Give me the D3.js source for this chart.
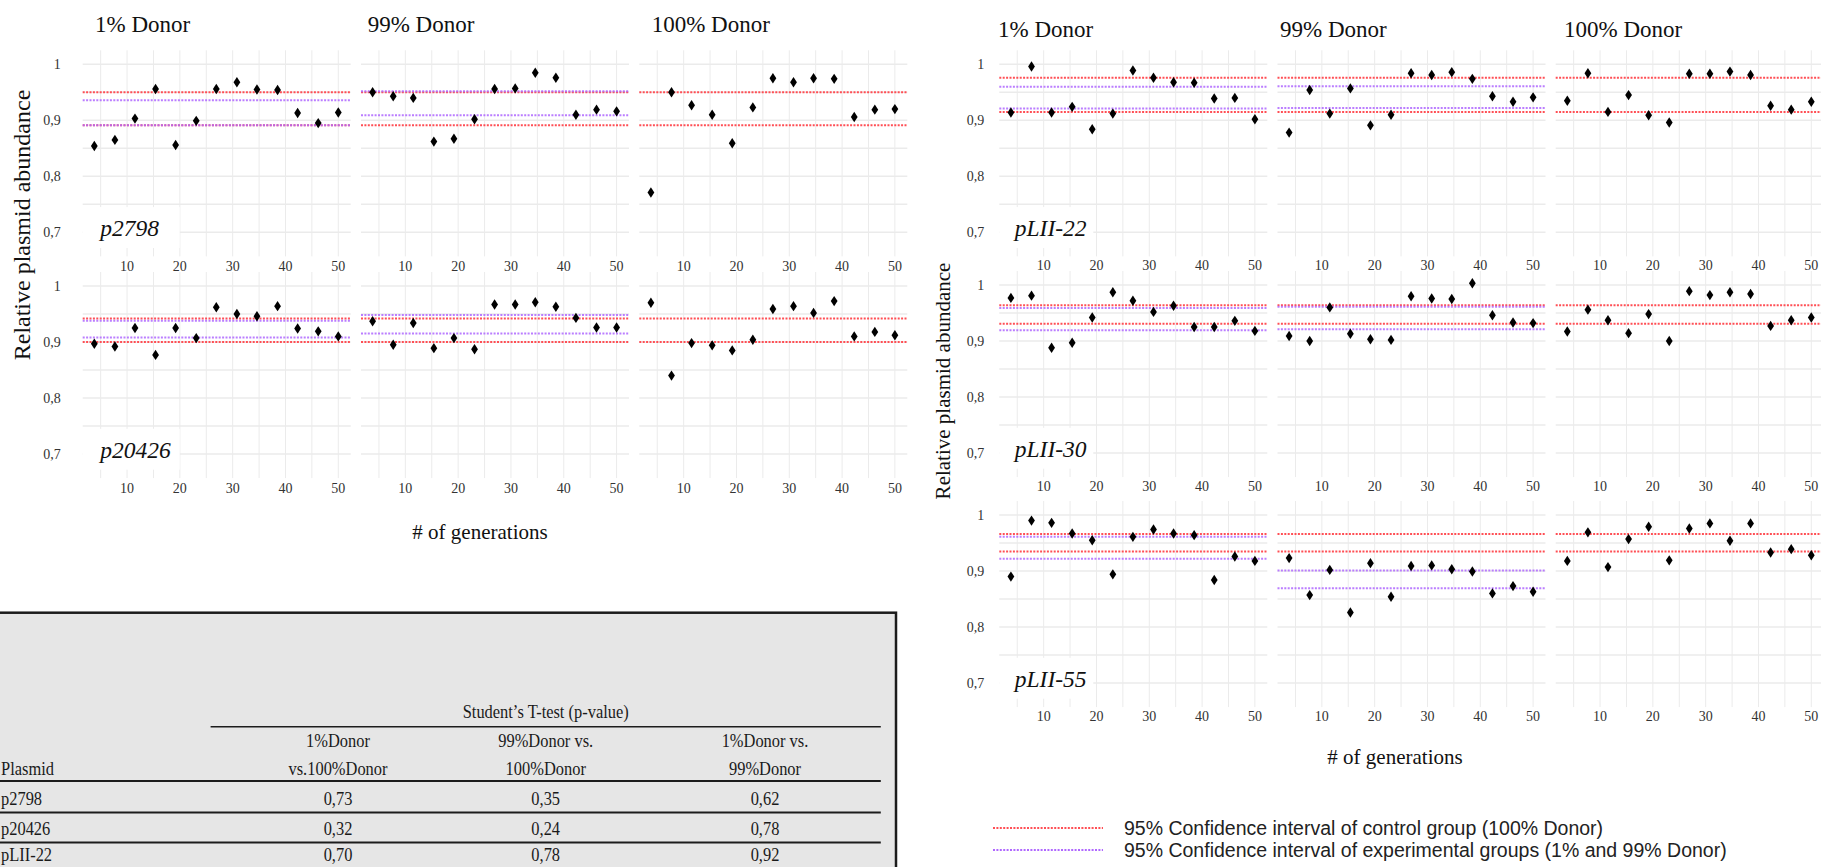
<!DOCTYPE html>
<html>
<head>
<meta charset="utf-8">
<script src="https://cdn.jsdelivr.net/npm/d3@7"></script>
<style>
  html, body { margin: 0; padding: 0; background: #fff; overflow: hidden; }
  svg { display: block; }
</style>
</head>
<body>
<svg id="fig" width="1821" height="867"></svg>
<script>
// ---- data -------------------------------------------------------------
const generations = [3.8, 7.7, 11.5, 15.4, 19.2, 23.1, 26.9, 30.8, 34.6, 38.5, 42.3, 46.2, 50];
const donorGroups = ["1% Donor", "99% Donor", "100% Donor"];
const plasmids = ["p2798", "p20426", "pLII-22", "pLII-30", "pLII-55"];

// relative plasmid abundance, one array per plasmid and donor fraction
const p2798_1   = [0.854, 0.865, 0.903, 0.956, 0.856, 0.899, 0.956, 0.968, 0.955, 0.954, 0.913, 0.895, 0.914];
const p2798_99  = [0.950, 0.943, 0.940, 0.862, 0.867, 0.902, 0.956, 0.957, 0.985, 0.976, 0.910, 0.919, 0.916];
const p2798_100 = [0.771, 0.950, 0.927, 0.910, 0.859, 0.923, 0.975, 0.968, 0.975, 0.974, 0.906, 0.919, 0.920];

const p20426_1   = [0.897, 0.892, 0.925, 0.877, 0.925, 0.907, 0.962, 0.950, 0.946, 0.964, 0.924, 0.919, 0.910];
const p20426_99  = [0.937, 0.895, 0.934, 0.889, 0.907, 0.887, 0.967, 0.967, 0.971, 0.963, 0.943, 0.926, 0.926];
const p20426_100 = [0.970, 0.840, 0.898, 0.894, 0.885, 0.904, 0.959, 0.964, 0.952, 0.973, 0.910, 0.918, 0.912];

const pLII22_1   = [0.914, 0.996, 0.914, 0.924, 0.884, 0.912, 0.989, 0.976, 0.968, 0.967, 0.939, 0.940, 0.902];
const pLII22_99  = [0.878, 0.954, 0.912, 0.957, 0.891, 0.910, 0.984, 0.981, 0.986, 0.974, 0.943, 0.933, 0.941];
const pLII22_100 = [0.935, 0.984, 0.915, 0.945, 0.909, 0.896, 0.983, 0.983, 0.987, 0.981, 0.926, 0.919, 0.933];

const pLII30_1   = [0.977, 0.981, 0.888, 0.897, 0.942, 0.987, 0.972, 0.952, 0.963, 0.925, 0.925, 0.936, 0.918];
const pLII30_99  = [0.909, 0.900, 0.960, 0.913, 0.903, 0.902, 0.980, 0.976, 0.975, 1.003, 0.946, 0.933, 0.932];
const pLII30_100 = [0.917, 0.956, 0.937, 0.914, 0.948, 0.900, 0.989, 0.982, 0.987, 0.984, 0.927, 0.937, 0.942];

const pLII55_1   = [0.890, 0.990, 0.986, 0.967, 0.955, 0.894, 0.961, 0.974, 0.967, 0.964, 0.884, 0.926, 0.918];
const pLII55_99  = [0.923, 0.857, 0.902, 0.826, 0.914, 0.854, 0.909, 0.910, 0.903, 0.899, 0.860, 0.873, 0.863];
const pLII55_100 = [0.918, 0.969, 0.907, 0.957, 0.979, 0.919, 0.976, 0.985, 0.954, 0.985, 0.933, 0.939, 0.928];

// 95% confidence intervals, in plasmid order
const controlLow  = [0.891, 0.900, 0.915, 0.931, 0.935];
const controlHigh = [0.950, 0.942, 0.976, 0.964, 0.966];
const exp1Low     = [0.891, 0.908, 0.921, 0.919, 0.922];
const exp1High    = [0.936, 0.938, 0.960, 0.959, 0.961];
const exp99Low    = [0.909, 0.915, 0.922, 0.921, 0.869];
const exp99High   = [0.952, 0.948, 0.961, 0.961, 0.901];

const xTicks = [10, 20, 30, 40, 50];
const yTicks = [0.7, 0.8, 0.9, 1];

// Student's t-test table
const tablePlasmids = ["p2798", "p20426", "pLII-22"];
const pOneVsHundred = [0.73, 0.32, 0.70];
const pNinetyNineVsHundred = [0.35, 0.24, 0.78];
const pOneVsNinetyNine = [0.62, 0.78, 0.92];

const legendLabels = [
  "95% Confidence interval of control group (100% Donor)",
  "95% Confidence interval of experimental groups (1% and 99% Donor)"
];

// ---- helpers ----------------------------------------------------------
const seriesByPlasmid = [
  [p2798_1, p2798_99, p2798_100],
  [p20426_1, p20426_99, p20426_100],
  [pLII22_1, pLII22_99, pLII22_100],
  [pLII30_1, pLII30_99, pLII30_100],
  [pLII55_1, pLII55_99, pLII55_100]
];
const commaLocale = d3.formatLocale({ decimal: ",", thousands: ".", grouping: [3], currency: ["", ""] });
const fmtTick = v => commaLocale.format("~g")(v);
const fmtP = commaLocale.format(".2f");

const RED = "#ff4f55";
const PURPLE = "#b068ff";
const GRID = "#ebebeb";
const SERIF = "'Liberation Serif', 'Times New Roman', serif";

const svg = d3.select("#fig");

// ---- small-multiple blocks -------------------------------------------
const panelW = 268;
const xDomain = [1.6, 52.35];
const yDomain = [0.657, 1.025];
const pxPerUnit = 560;
const panelH = (yDomain[1] - yDomain[0]) * pxPerUnit;

const blocks = [
  {
    rows: [0, 1],
    lefts: [82.7, 361, 639.3],
    rowOne: [64.3, 286],            // pixel row where y = 1
    titleX: [95, 367.7, 651.7], titleY: 32,
    tickLabelGap: 22, xLabelDy: 15,
    tagDx: 17.5, tagW: 97,
    yTitle: { x: 22, y: 225, size: 24 },
    xTitle: { x: 480, y: 539 }
  },
  {
    rows: [2, 3, 4],
    lefts: [999.3, 1277.5, 1555.7],
    rowOne: [64.3, 285, 515],
    titleX: [998, 1280, 1564], titleY: 37,
    tickLabelGap: 15, xLabelDy: 14,
    tagDx: 15.5, tagW: 94,
    yTitle: { x: 943, y: 381, size: 21 },
    xTitle: { x: 1395, y: 764 }
  }
];

const diamond = "M0,-5.2L3.4,0L0,5.2L-3.4,0Z";

blocks.forEach(block => {
  const g = svg.append("g");

  // facet titles
  donorGroups.forEach((name, c) => {
    g.append("text")
      .attr("x", block.titleX[c]).attr("y", block.titleY)
      .attr("font-family", SERIF).attr("font-size", 23)
      .attr("fill", "#111")
      .text(name);
  });

  block.rows.forEach((pi, r) => {
    const top = block.rowOne[r] - (yDomain[1] - 1) * pxPerUnit;
    const y = d3.scaleLinear().domain(yDomain).range([top + panelH, top]);

    donorGroups.forEach((grp, c) => {
      const left = block.lefts[c];
      const x = d3.scaleLinear().domain(xDomain).range([left, left + panelW]);
      const pg = g.append("g");

      // grid: vertical every 5 generations, horizontal every 0.05
      pg.selectAll("line.vg").data(d3.range(5, 51, 5)).join("line")
        .attr("x1", d => x(d)).attr("x2", d => x(d))
        .attr("y1", top).attr("y2", top + panelH)
        .attr("stroke", GRID).attr("stroke-width", 1);
      pg.selectAll("line.hg").data(d3.range(0.7, 1.001, 0.05)).join("line")
        .attr("x1", left).attr("x2", left + panelW)
        .attr("y1", d => y(d)).attr("y2", d => y(d))
        .attr("stroke", GRID).attr("stroke-width", 1.6);

      // plasmid tag in the first column
      if (c === 0) {
        pg.append("rect")
          .attr("x", left).attr("y", y(0.745))
          .attr("width", block.tagW).attr("height", y(0.672) - y(0.745))
          .attr("fill", "#fff");
        pg.append("text")
          .attr("x", left + block.tagDx).attr("y", y(1) + 172)
          .attr("font-family", SERIF).attr("font-style", "italic")
          .attr("font-size", 23.5).attr("fill", "#111")
          .text(plasmids[pi]);

        // y tick labels
        pg.selectAll("text.yt").data(yTicks).join("text")
          .attr("x", left - block.tickLabelGap).attr("y", d => y(d))
          .attr("dy", "0.35em").attr("text-anchor", "end")
          .attr("font-family", SERIF).attr("font-size", 14).attr("fill", "#333")
          .text(fmtTick);
      }

      // x tick labels
      pg.selectAll("text.xt").data(xTicks).join("text")
        .attr("x", d => x(d)).attr("y", top + panelH + block.xLabelDy)
        .attr("text-anchor", "middle")
        .attr("font-family", SERIF).attr("font-size", 14).attr("fill", "#333")
        .text(d => d);

      // confidence intervals
      const ciLine = (v, color) => pg.append("line")
        .attr("x1", left).attr("x2", left + panelW)
        .attr("y1", y(v)).attr("y2", y(v))
        .attr("stroke", color).attr("stroke-width", 2)
        .attr("stroke-dasharray", "2,1.4");
      ciLine(controlLow[pi], RED);
      ciLine(controlHigh[pi], RED);
      if (c === 0) {
        ciLine(exp1Low[pi], PURPLE).attr("opacity", 0.85);
        ciLine(exp1High[pi], PURPLE).attr("opacity", 0.85);
      } else if (c === 1) {
        ciLine(exp99Low[pi], PURPLE).attr("opacity", 0.85);
        ciLine(exp99High[pi], PURPLE).attr("opacity", 0.85);
      }

      // points
      const vals = seriesByPlasmid[pi][c];
      pg.selectAll("path.pt").data(generations.map((gen, i) => [gen, vals[i]])).join("path")
        .attr("d", diamond)
        .attr("transform", d => `translate(${x(d[0])},${y(d[1])})`)
        .attr("fill", "#000");
    });
  });

  // axis titles
  g.append("text")
    .attr("transform", `translate(${block.yTitle.x},${block.yTitle.y}) rotate(-90)`)
    .attr("text-anchor", "middle").attr("dy", "0.35em")
    .attr("font-family", SERIF).attr("font-size", block.yTitle.size).attr("fill", "#111")
    .text("Relative plasmid abundance");
  g.append("text")
    .attr("x", block.xTitle.x).attr("y", block.xTitle.y)
    .attr("text-anchor", "middle")
    .attr("font-family", SERIF).attr("font-size", 21).attr("fill", "#111")
    .text("# of generations");
});

// ---- legend -----------------------------------------------------------
const legend = svg.append("g");
[RED, PURPLE].forEach((color, i) => {
  const ly = 828 + i * 22;
  legend.append("line")
    .attr("x1", 993).attr("x2", 1103).attr("y1", ly).attr("y2", ly)
    .attr("stroke", color).attr("stroke-width", 2).attr("stroke-dasharray", "2,1.4");
  legend.append("text")
    .attr("x", 1124).attr("y", ly).attr("dy", "0.35em")
    .attr("font-family", "'Liberation Sans', Arial, sans-serif")
    .attr("font-size", 19.5).attr("fill", "#222")
    .text(legendLabels[i]);
});

// ---- t-test table -----------------------------------------------------
const table = svg.append("g");
table.append("rect")
  .attr("x", -10).attr("y", 612.7).attr("width", 906).attr("height", 300)
  .attr("fill", "#e6e6e6").attr("stroke", "#1c1c1c").attr("stroke-width", 2.5);

const squeeze = 0.865;
const cell = (txt, cx, cy, anchor) => table.append("text")
  .attr("transform", `translate(${cx},${cy}) scale(${squeeze},1)`)
  .attr("text-anchor", anchor || "middle")
  .attr("font-family", SERIF).attr("font-size", 19).attr("fill", "#1a1a1a")
  .text(txt);

const colX = [338, 545.7, 765];
cell("Student\u2019s T-test (p-value)", 545.7, 718);
table.append("line").attr("x1", 210.6).attr("x2", 880.8).attr("y1", 726.7).attr("y2", 726.7)
  .attr("stroke", "#1c1c1c").attr("stroke-width", 1.6);

cell("1%Donor", colX[0], 747);
cell("vs.100%Donor", colX[0], 775);
cell("99%Donor vs.", colX[1], 747);
cell("100%Donor", colX[1], 775);
cell("1%Donor vs.", colX[2], 747);
cell("99%Donor", colX[2], 775);
cell("Plasmid", 1, 775, "start");

const ruleY = [781, 812.5, 842.5];
ruleY.forEach(ry => table.append("line")
  .attr("x1", -10).attr("x2", 880.8).attr("y1", ry).attr("y2", ry)
  .attr("stroke", "#1c1c1c").attr("stroke-width", 2));

const rowBase = [804.5, 835, 861];
tablePlasmids.forEach((name, i) => {
  const by = rowBase[i];
  cell(name, 1, by, "start");
  cell(fmtP(pOneVsHundred[i]), colX[0], by);
  cell(fmtP(pNinetyNineVsHundred[i]), colX[1], by);
  cell(fmtP(pOneVsNinetyNine[i]), colX[2], by);
});
</script>
</body>
</html>
